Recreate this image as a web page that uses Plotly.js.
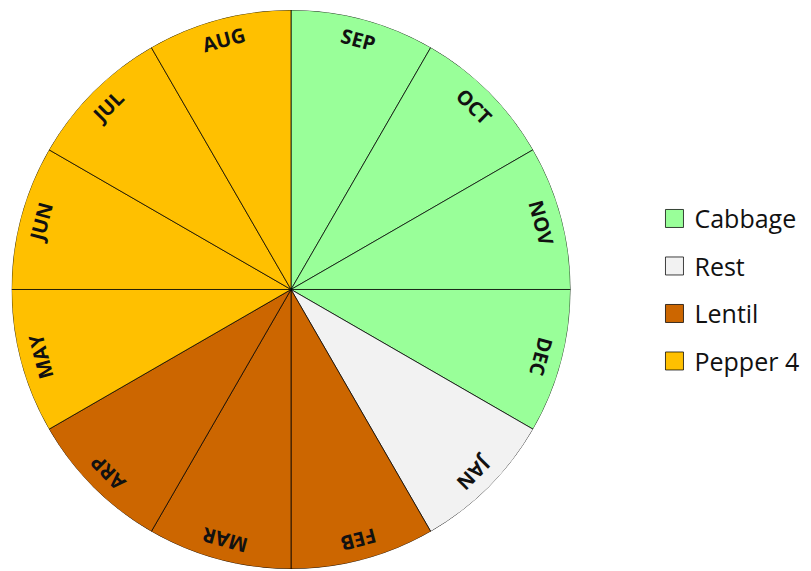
<!DOCTYPE html>
<html>
<head>
<meta charset="utf-8">
<script src="https://cdn.plot.ly/plotly-3.0.1.min.js"></script>
<style>
html,body{margin:0;padding:0;background:#fff;}
#chart{width:811px;height:571px;}
</style>
</head>
<body>
<div id="chart"></div>
<script>
// Months in clockwise order starting at 12 o'clock
var months = ['SEP','OCT','NOV','DEC','JAN','FEB','MAR','ARP','MAY','JUN','JUL','AUG'];
// Crop occupying each month
var monthCrop = ['Cabbage','Cabbage','Cabbage','Cabbage','Rest','Lentil','Lentil','Lentil','Pepper 4','Pepper 4','Pepper 4','Pepper 4'];
// Sector size per month (all months equal)
var monthShare = [1,1,1,1,1,1,1,1,1,1,1,1];
// Legend series
var crops = ['Cabbage','Rest','Lentil','Pepper 4'];
var cropColors = ['#99FF99','#F2F2F2','#CC6600','#FFC000'];

var W = 811, H = 571;
var domX = [0.0142, 0.7035];
var domY = [0.0035, 0.9825];

var step = 360 / months.length;
var traces = crops.map(function(crop, ci){
  var th = [], rr = [], wd = [], tx = [];
  months.forEach(function(m, i){
    if (monthCrop[i] === crop){
      th.push(step * i + step / 2);
      rr.push(monthShare[i]);
      wd.push(step);
      tx.push(m);
    }
  });
  return {
    type: 'barpolar',
    name: crop,
    legendgroup: crop,
    theta: th,
    r: rr,
    width: wd,
    text: tx,
    hoverinfo: 'text+name',
    marker: {color: cropColors[ci], line: {color: 'rgba(0,0,0,0.75)', width: 1}}
  };
});

// Month labels placed near the rim, rotated tangentially
var cx = (domX[0] + domX[1]) / 2 * W;
var cy = (1 - (domY[0] + domY[1]) / 2) * H;
var R = Math.min((domX[1] - domX[0]) * W, (domY[1] - domY[0]) * H) / 2;
var rl = 0.927 * R;
var annotations = months.map(function(m, i){
  var a = step * i + step / 2;
  var rad = a * Math.PI / 180;
  var px = cx + rl * Math.sin(rad);
  var py = cy - rl * Math.cos(rad);
  var ang = a > 180 ? a - 360 : a;
  return {
    xref: 'paper', yref: 'paper',
    x: px / W, y: 1 - py / H,
    xanchor: 'center', yanchor: 'middle',
    text: m, showarrow: false, textangle: ang,
    font: {family: 'Open Sans', size: 20, color: '#111', weight: 'bold'}
  };
});

var layout = {
  width: W, height: H,
  margin: {l: 0, r: 0, t: 0, b: 0, autoexpand: false},
  paper_bgcolor: '#fff',
  showlegend: true,
  legend: {
    x: 0.807, xanchor: 'left', y: 0.4926, yanchor: 'middle',
    font: {family: 'Open Sans', size: 25, color: '#111'},
    tracegroupgap: 12, traceorder: 'grouped', bgcolor: 'rgba(0,0,0,0)'
  },
  polar: {
    domain: {x: domX, y: domY},
    bgcolor: 'rgba(0,0,0,0)',
    bargap: 0,
    radialaxis: {visible: false, range: [0, 1]},
    angularaxis: {visible: false, rotation: 90, direction: 'clockwise', showgrid: false}
  },
  annotations: annotations
};

Plotly.newPlot('chart', traces, layout, {displayModeBar: false, staticPlot: true}).then(function(gd){
  var pts = gd.querySelectorAll('.legend .legendpoints path');
  pts.forEach(function(p){ p.setAttribute('d', 'M9,9H-9V-9H9Z'); });
});
</script>
</body>
</html>
